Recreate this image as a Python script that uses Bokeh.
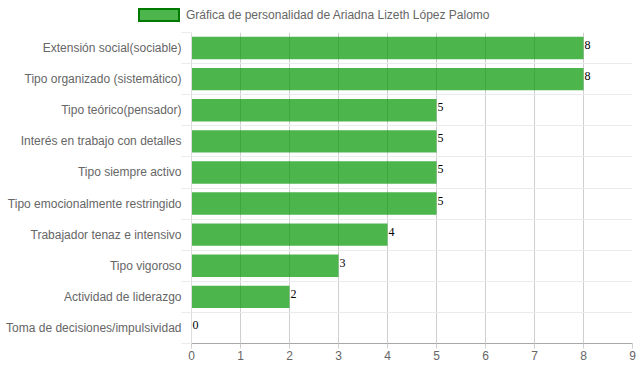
from bokeh.plotting import figure
from bokeh.models import ColumnDataSource, FixedTicker, Range1d, Div
from bokeh.layouts import column
from bokeh.core.properties import value
from bokeh.embed import file_html
from bokeh.resources import INLINE

title = "Gráfica de personalidad de Ariadna Lizeth López Palomo"
categories = ["Extensión social(sociable)", "Tipo organizado (sistemático)",
              "Tipo teórico(pensador)", "Interés en trabajo con detalles",
              "Tipo siempre activo", "Tipo emocionalmente restringido",
              "Trabajador tenaz e intensivo", "Tipo vigoroso",
              "Actividad de liderazgo", "Toma de decisiones/impulsividad"]
values = [8, 8, 5, 5, 5, 5, 4, 3, 2, 0]
x_ticks = [0, 1, 2, 3, 4, 5, 6, 7, 8, 9]

n = len(categories)
ypos = [n - 1 - i for i in range(n)]
bounds = [i - 0.5 for i in range(n + 1)]

src = ColumnDataSource(dict(y=ypos, v=values, lab=[str(v) for v in values], cat=categories))

W, H = 639, 372
LEG_H = 31
BOTTOM, LEFT, RIGHT = 29, 191, 7
p = figure(width=W, height=H - LEG_H, output_backend="svg", toolbar_location=None,
           x_range=Range1d(x_ticks[0], x_ticks[-1]), y_range=Range1d(-0.5, n - 0.5),
           min_border_left=LEFT, min_border_right=RIGHT, min_border_top=1,
           min_border_bottom=BOTTOM)
p.outline_line_color = None

FONT = "Liberation Sans"
GRAY = "#666666"

# grids
p.xgrid.ticker = FixedTicker(ticks=x_ticks)
p.xgrid.grid_line_color = "#cfcfcf"
yt = FixedTicker(ticks=ypos, minor_ticks=bounds)
p.ygrid.ticker = yt
p.ygrid.grid_line_color = None
p.ygrid.minor_grid_line_color = "#ebebeb"

# x axis
xa = p.xaxis[0]
xa.ticker = FixedTicker(ticks=x_ticks)
xa.axis_line_color = "#a8a8a8"
xa.major_tick_in = 0
xa.major_tick_out = 5
xa.major_tick_line_color = "#cfcfcf"
xa.minor_tick_line_color = None
xa.major_label_text_font = FONT
xa.major_label_text_font_size = "12px"
xa.major_label_text_color = GRAY
xa.major_label_standoff = 2

# y axis
ya = p.yaxis[0]
ya.ticker = yt
ya.major_label_overrides = {y: c for y, c in zip(ypos, categories)}
ya.axis_line_color = "#dcdcdc"
ya.major_tick_line_color = None
ya.major_tick_in = 0
ya.major_tick_out = 0
ya.minor_tick_in = 0
ya.minor_tick_out = 10
ya.minor_tick_line_color = "#ebebeb"
ya.major_label_text_font = FONT
ya.major_label_text_font_size = "12px"
ya.major_label_text_color = GRAY
ya.major_label_standoff = 0

# bars
bars = p.hbar(y="y", right="v", left=0, height=0.72, source=src,
              fill_color="#009600", fill_alpha=0.7, line_color=None)

# value labels
p.text(x="v", y="y", text="lab", source=src, x_offset=1, y_offset=-3,
       text_font=value("Liberation Serif"), text_font_size="12px",
       text_color="#000000", text_baseline="middle", text_align="left")

# legend (HTML, above the plot)
legend_html = (
    f'<div style="position:relative;width:{W}px;height:{LEG_H}px;'
    f'font-family:\'{FONT}\';font-size:12px;color:{GRAY};">'
    '<span style="position:absolute;box-sizing:border-box;left:138px;top:8px;'
    'width:42px;height:14px;'
    'background:rgba(0,150,0,0.7);border:2px solid #007a00;"></span>'
    '<span style="position:absolute;left:186px;top:8px;line-height:14px;white-space:nowrap;">'
    f'{title}</span></div>'
)
leg = Div(text=legend_html, width=W, height=LEG_H, margin=0)

layout = column(leg, p, spacing=0)
open("out.html", "w").write(file_html(layout, INLINE))
